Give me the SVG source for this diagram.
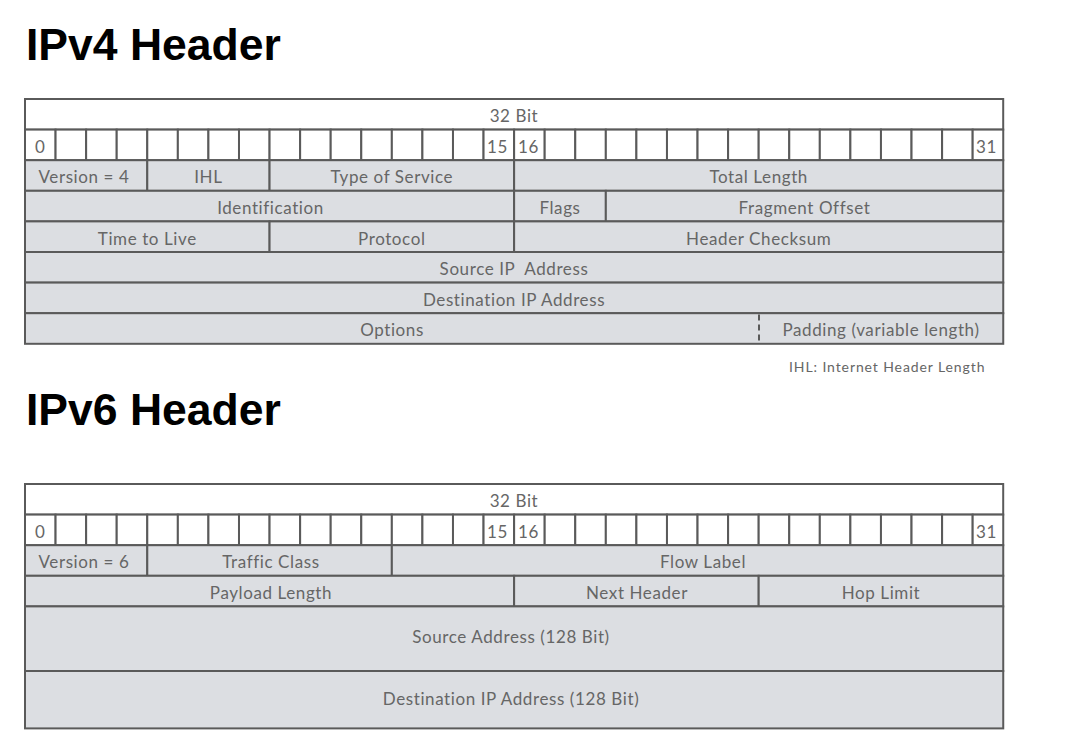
<svg xmlns="http://www.w3.org/2000/svg" width="1089" height="755" viewBox="0 0 1089 755">
<style>
.title{font-family:"Liberation Sans",Arial,sans-serif;font-weight:bold;font-size:44.5px;fill:#000}
.f{fill:#dcdee2;stroke:#5a5a5a;stroke-width:2}
.w{fill:#fff;stroke:#5a5a5a;stroke-width:2}
.t{font-family:Lato,"Noto Sans",sans-serif;font-size:17px;letter-spacing:0.6px;fill:#666;text-anchor:middle}
.n{font-family:Lato,"Noto Sans",sans-serif;font-size:17px;letter-spacing:0.6px;fill:#666}
.note{font-family:Lato,"Noto Sans",sans-serif;font-size:14px;letter-spacing:0.9px;fill:#666}
.d{stroke:#5a5a5a;stroke-width:2;stroke-dasharray:6,4;fill:none}
</style>
<defs>
<g id="bits">
<rect class="w" x="25" y="0" width="978.2" height="30.6"/>
<rect class="w" x="25" y="30.6" width="30.57" height="30.6"/>
<rect class="w" x="55.57" y="30.6" width="30.57" height="30.6"/>
<rect class="w" x="86.14" y="30.6" width="30.57" height="30.6"/>
<rect class="w" x="116.71" y="30.6" width="30.57" height="30.6"/>
<rect class="w" x="147.28" y="30.6" width="30.57" height="30.6"/>
<rect class="w" x="177.85" y="30.6" width="30.57" height="30.6"/>
<rect class="w" x="208.42" y="30.6" width="30.57" height="30.6"/>
<rect class="w" x="238.99" y="30.6" width="30.57" height="30.6"/>
<rect class="w" x="269.56" y="30.6" width="30.57" height="30.6"/>
<rect class="w" x="300.13" y="30.6" width="30.57" height="30.6"/>
<rect class="w" x="330.7" y="30.6" width="30.57" height="30.6"/>
<rect class="w" x="361.27" y="30.6" width="30.57" height="30.6"/>
<rect class="w" x="391.84" y="30.6" width="30.57" height="30.6"/>
<rect class="w" x="422.41" y="30.6" width="30.57" height="30.6"/>
<rect class="w" x="452.98" y="30.6" width="30.57" height="30.6"/>
<rect class="w" x="483.55" y="30.6" width="30.57" height="30.6"/>
<rect class="w" x="514.12" y="30.6" width="30.57" height="30.6"/>
<rect class="w" x="544.69" y="30.6" width="30.57" height="30.6"/>
<rect class="w" x="575.26" y="30.6" width="30.57" height="30.6"/>
<rect class="w" x="605.83" y="30.6" width="30.57" height="30.6"/>
<rect class="w" x="636.4" y="30.6" width="30.57" height="30.6"/>
<rect class="w" x="666.97" y="30.6" width="30.57" height="30.6"/>
<rect class="w" x="697.54" y="30.6" width="30.57" height="30.6"/>
<rect class="w" x="728.11" y="30.6" width="30.57" height="30.6"/>
<rect class="w" x="758.68" y="30.6" width="30.57" height="30.6"/>
<rect class="w" x="789.25" y="30.6" width="30.57" height="30.6"/>
<rect class="w" x="819.82" y="30.6" width="30.57" height="30.6"/>
<rect class="w" x="850.39" y="30.6" width="30.57" height="30.6"/>
<rect class="w" x="880.96" y="30.6" width="30.57" height="30.6"/>
<rect class="w" x="911.53" y="30.6" width="30.57" height="30.6"/>
<rect class="w" x="942.1" y="30.6" width="30.57" height="30.6"/>
<rect class="w" x="972.67" y="30.6" width="30.57" height="30.6"/>
<text class="t" x="514" y="23">32 Bit</text>
<text class="n" x="35" y="53.5">0</text>
<text class="n" x="487" y="53.5">15</text>
<text class="n" x="518" y="53.5">16</text>
<text class="n" x="976" y="53.5">31</text>
</g>
</defs>

<text class="title" x="26" y="60">IPv4 Header</text>
<g id="ipv4-bits"><use href="#bits" transform="translate(0,99)"/></g>
<g id="v4-version"><rect class="f" x="25" y="160.2" width="122.28" height="30.6"/><text class="t" x="84" y="183.3">Version = 4</text></g>
<g id="v4-ihl"><rect class="f" x="147.28" y="160.2" width="122.28" height="30.6"/><text class="t" x="208.4" y="183.3">IHL</text></g>
<g id="v4-tos"><rect class="f" x="269.56" y="160.2" width="244.56" height="30.6"/><text class="t" x="391.8" y="183.3">Type of Service</text></g>
<g id="v4-totlen"><rect class="f" x="514.12" y="160.2" width="489.12" height="30.6"/><text class="t" x="758.7" y="183.3">Total Length</text></g>
<g id="v4-ident"><rect class="f" x="25" y="190.8" width="489.12" height="30.6"/><text class="t" x="270.5" y="213.9">Identification</text></g>
<g id="v4-flags"><rect class="f" x="514.12" y="190.8" width="91.71" height="30.6"/><text class="t" x="560" y="213.9">Flags</text></g>
<g id="v4-frag"><rect class="f" x="605.83" y="190.8" width="397.41" height="30.6"/><text class="t" x="804.5" y="213.9">Fragment Offset</text></g>
<g id="v4-ttl"><rect class="f" x="25" y="221.4" width="244.56" height="30.6"/><text class="t" x="147.3" y="244.5">Time to Live</text></g>
<g id="v4-proto"><rect class="f" x="269.56" y="221.4" width="244.56" height="30.6"/><text class="t" x="391.8" y="244.5">Protocol</text></g>
<g id="v4-cksum"><rect class="f" x="514.12" y="221.4" width="489.12" height="30.6"/><text class="t" x="758.7" y="244.5">Header Checksum</text></g>
<g id="v4-src"><rect class="f" x="25" y="252" width="978.24" height="30.6"/><text class="t" x="514" y="275.1" xml:space="preserve">Source IP  Address</text></g>
<g id="v4-dst"><rect class="f" x="25" y="282.6" width="978.24" height="30.6"/><text class="t" x="514" y="305.7">Destination IP Address</text></g>
<g id="v4-options"><rect class="f" x="25" y="313.2" width="978.24" height="30.6"/><text class="t" x="392" y="336.3">Options</text></g>
<g id="v4-padding"><line class="d" x1="759" y1="314.5" x2="759" y2="342.5"/><text class="t" x="881" y="336.3">Padding (variable length)</text></g>
<text class="note" x="789" y="371.5">IHL: Internet Header Length</text>

<text class="title" x="26" y="425">IPv6 Header</text>
<g id="ipv6-bits"><use href="#bits" transform="translate(0,484)"/></g>
<g id="v6-version"><rect class="f" x="25" y="545.2" width="122.28" height="30.6"/><text class="t" x="84" y="568.3">Version = 6</text></g>
<g id="v6-tc"><rect class="f" x="147.28" y="545.2" width="244.56" height="30.6"/><text class="t" x="271" y="568.3">Traffic Class</text></g>
<g id="v6-flow"><rect class="f" x="391.84" y="545.2" width="611.4" height="30.6"/><text class="t" x="703" y="568.3">Flow Label</text></g>
<g id="v6-payload"><rect class="f" x="25" y="575.8" width="489.12" height="30.6"/><text class="t" x="271" y="598.9">Payload Length</text></g>
<g id="v6-next"><rect class="f" x="514.12" y="575.8" width="244.56" height="30.6"/><text class="t" x="637" y="598.9">Next Header</text></g>
<g id="v6-hop"><rect class="f" x="758.68" y="575.8" width="244.56" height="30.6"/><text class="t" x="881" y="598.9">Hop Limit</text></g>
<g id="v6-src"><rect class="f" x="25" y="606.4" width="978.24" height="64.6"/><text class="t" x="511" y="643">Source Address (128 Bit)</text></g>
<g id="v6-dst"><rect class="f" x="25" y="671" width="978.24" height="57.4"/><text class="t" x="511" y="704.5">Destination IP Address (128 Bit)</text></g>
</svg>
